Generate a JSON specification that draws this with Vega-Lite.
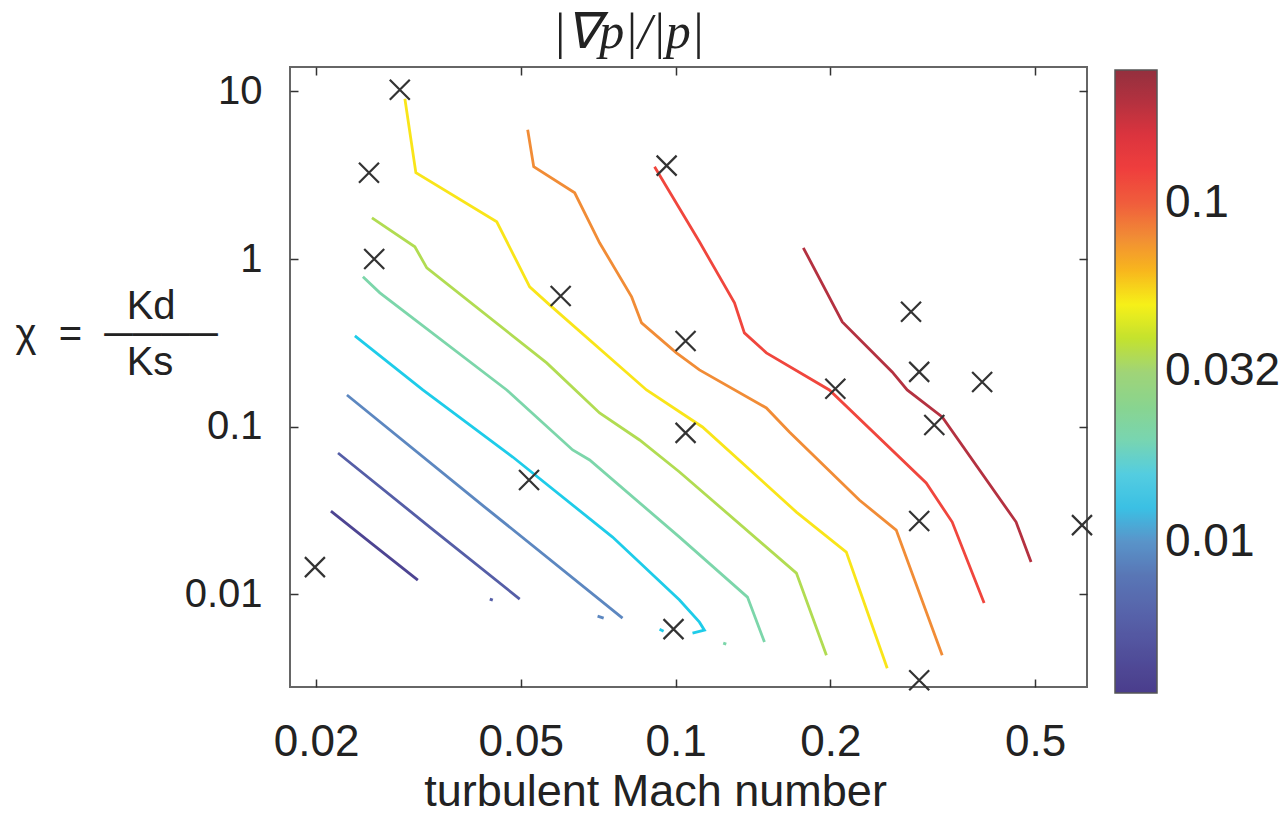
{
  "$schema": "https://vega.github.io/schema/vega-lite/v6.json",
  "width": 797,
  "height": 620,
  "autosize": "none",
  "padding": {"left": 290, "top": 67, "right": 201, "bottom": 128},
  "background": "white",
  "config": {
    "font": "Liberation Sans",
    "view": {"stroke": "#666", "strokeWidth": 2},
    "axis": {
      "domain": false, "grid": false, "ticks": true, "tickColor": "#333", "tickWidth": 1.5,
      "tickSize": 8, "offset": -8, "labelFont": "Liberation Sans", "labelColor": "#222",
      "titleColor": "#222", "titleFont": "Liberation Sans", "titleFontWeight": "normal"
    }
  },
  "title": {
    "text": "|∇p|/|p|", "font": "Liberation Serif", "fontSize": 50, "fontStyle": "italic",
    "fontWeight": "normal", "color": "#222", "anchor": "middle", "dx": -60, "dy": 52, "offset": 20, "baseline": "alphabetic"
  },
  "datasets": {
    "contours": [
      {"c": "1", "lg": -2.40, "i": 1, "x": 0.02138, "y": 0.03131},
      {"c": "1", "lg": -2.40, "i": 2, "x": 0.02603, "y": 0.01935},
      {"c": "1", "lg": -2.40, "i": 3, "x": 0.03155, "y": 0.01212},
      {"c": "2", "lg": -2.25, "i": 1, "x": 0.02207, "y": 0.06956},
      {"c": "2", "lg": -2.25, "i": 2, "x": 0.03328, "y": 0.02513},
      {"c": "2", "lg": -2.25, "i": 3, "x": 0.04978, "y": 0.00934},
      {"c": "2b", "lg": -2.25, "i": 1, "x": 0.04354, "y": 0.00934},
      {"c": "2b", "lg": -2.25, "i": 2, "x": 0.04413, "y": 0.00921},
      {"c": "3", "lg": -2.03, "i": 1, "x": 0.02297, "y": 0.1544},
      {"c": "3", "lg": -2.03, "i": 2, "x": 0.04257, "y": 0.03309},
      {"c": "3", "lg": -2.03, "i": 3, "x": 0.07888, "y": 0.00719},
      {"c": "3b", "lg": -2.03, "i": 1, "x": 0.07054, "y": 0.00739},
      {"c": "3b", "lg": -2.03, "i": 2, "x": 0.07249, "y": 0.00719},
      {"c": "4", "lg": -1.848, "i": 1, "x": 0.02380, "y": 0.3477},
      {"c": "4", "lg": -1.848, "i": 2, "x": 0.03226, "y": 0.1654},
      {"c": "4", "lg": -1.848, "i": 3, "x": 0.04825, "y": 0.06582},
      {"c": "4", "lg": -1.848, "i": 4, "x": 0.07543, "y": 0.02190},
      {"c": "4", "lg": -1.848, "i": 5, "x": 0.1018, "y": 0.00921},
      {"c": "4", "lg": -1.848, "i": 6, "x": 0.1113, "y": 0.00680},
      {"c": "4", "lg": -1.848, "i": 7, "x": 0.1138, "y": 0.00609},
      {"c": "4", "lg": -1.848, "i": 8, "x": 0.1079, "y": 0.00585},
      {"c": "4b", "lg": -1.848, "i": 1, "x": 0.0931, "y": 0.00617},
      {"c": "4b", "lg": -1.848, "i": 2, "x": 0.0948, "y": 0.00601},
      {"c": "5", "lg": -1.68, "i": 1, "x": 0.02467, "y": 0.7828},
      {"c": "5", "lg": -1.68, "i": 2, "x": 0.02662, "y": 0.6283},
      {"c": "5", "lg": -1.68, "i": 3, "x": 0.04697, "y": 0.1654},
      {"c": "5", "lg": -1.68, "i": 4, "x": 0.0631, "y": 0.07249},
      {"c": "5", "lg": -1.68, "i": 5, "x": 0.06808, "y": 0.06316},
      {"c": "5", "lg": -1.68, "i": 6, "x": 0.1018, "y": 0.0219},
      {"c": "5", "lg": -1.68, "i": 7, "x": 0.1380, "y": 0.00960},
      {"c": "5", "lg": -1.68, "i": 8, "x": 0.1489, "y": 0.00517},
      {"c": "5b", "lg": -1.68, "i": 1, "x": 0.1238, "y": 0.0051},
      {"c": "5b", "lg": -1.68, "i": 2, "x": 0.1255, "y": 0.00503},
      {"c": "6", "lg": -1.44, "i": 1, "x": 0.02569, "y": 1.762},
      {"c": "6", "lg": -1.44, "i": 2, "x": 0.03113, "y": 1.183},
      {"c": "6", "lg": -1.44, "i": 3, "x": 0.03284, "y": 0.886},
      {"c": "6", "lg": -1.44, "i": 4, "x": 0.05617, "y": 0.2398},
      {"c": "6", "lg": -1.44, "i": 5, "x": 0.07118, "y": 0.1206},
      {"c": "6", "lg": -1.44, "i": 6, "x": 0.08514, "y": 0.08318},
      {"c": "6", "lg": -1.44, "i": 7, "x": 0.1018, "y": 0.05356},
      {"c": "6", "lg": -1.44, "i": 8, "x": 0.1718, "y": 0.01335},
      {"c": "6", "lg": -1.44, "i": 9, "x": 0.1965, "y": 0.00432},
      {"c": "7", "lg": -1.27, "i": 1, "x": 0.02977, "y": 9.057},
      {"c": "7", "lg": -1.27, "i": 2, "x": 0.03127, "y": 3.273},
      {"c": "7", "lg": -1.27, "i": 3, "x": 0.04492, "y": 1.668},
      {"c": "7", "lg": -1.27, "i": 4, "x": 0.05205, "y": 0.6822},
      {"c": "7", "lg": -1.27, "i": 5, "x": 0.05691, "y": 0.5326},
      {"c": "7", "lg": -1.27, "i": 6, "x": 0.08783, "y": 0.1654},
      {"c": "7", "lg": -1.27, "i": 7, "x": 0.1128, "y": 0.09945},
      {"c": "7", "lg": -1.27, "i": 8, "x": 0.1718, "y": 0.03088},
      {"c": "7", "lg": -1.27, "i": 9, "x": 0.2148, "y": 0.01782},
      {"c": "7", "lg": -1.27, "i": 10, "x": 0.2580, "y": 0.003613},
      {"c": "8", "lg": -1.10, "i": 1, "x": 0.05159, "y": 5.913},
      {"c": "8", "lg": -1.10, "i": 2, "x": 0.05300, "y": 3.554},
      {"c": "8", "lg": -1.10, "i": 3, "x": 0.06367, "y": 2.486},
      {"c": "8", "lg": -1.10, "i": 4, "x": 0.07118, "y": 1.250},
      {"c": "8", "lg": -1.10, "i": 5, "x": 0.08216, "y": 0.5944},
      {"c": "8", "lg": -1.10, "i": 6, "x": 0.08590, "y": 0.4158},
      {"c": "8", "lg": -1.10, "i": 7, "x": 0.1004, "y": 0.2753},
      {"c": "8", "lg": -1.10, "i": 8, "x": 0.1113, "y": 0.2178},
      {"c": "8", "lg": -1.10, "i": 9, "x": 0.1502, "y": 0.1292},
      {"c": "8", "lg": -1.10, "i": 10, "x": 0.1665, "y": 0.09284},
      {"c": "8", "lg": -1.10, "i": 11, "x": 0.2277, "y": 0.03643},
      {"c": "8", "lg": -1.10, "i": 12, "x": 0.2686, "y": 0.02412},
      {"c": "8", "lg": -1.10, "i": 13, "x": 0.3300, "y": 0.00432},
      {"c": "9", "lg": -0.93, "i": 1, "x": 0.09104, "y": 3.554},
      {"c": "9", "lg": -0.93, "i": 2, "x": 0.1113, "y": 1.267},
      {"c": "9", "lg": -0.93, "i": 3, "x": 0.1302, "y": 0.5475},
      {"c": "9", "lg": -0.93, "i": 4, "x": 0.1361, "y": 0.3623},
      {"c": "9", "lg": -0.93, "i": 5, "x": 0.1502, "y": 0.2753},
      {"c": "9", "lg": -0.93, "i": 6, "x": 0.1991, "y": 0.1654},
      {"c": "9", "lg": -0.93, "i": 7, "x": 0.3072, "y": 0.04603},
      {"c": "9", "lg": -0.93, "i": 8, "x": 0.3451, "y": 0.02692},
      {"c": "9", "lg": -0.93, "i": 9, "x": 0.3981, "y": 0.00884},
      {"c": "10", "lg": -0.70, "i": 1, "x": 0.1772, "y": 1.167},
      {"c": "10", "lg": -0.70, "i": 2, "x": 0.2110, "y": 0.4216},
      {"c": "10", "lg": -0.70, "i": 3, "x": 0.2638, "y": 0.2120},
      {"c": "10", "lg": -0.70, "i": 4, "x": 0.2821, "y": 0.1654},
      {"c": "10", "lg": -0.70, "i": 5, "x": 0.3300, "y": 0.1141},
      {"c": "10", "lg": -0.70, "i": 6, "x": 0.4594, "y": 0.02692},
      {"c": "10", "lg": -0.70, "i": 7, "x": 0.4912, "y": 0.01553}
    ],
    "marks": [
      {"x": 0.0291, "y": 10.25},
      {"x": 0.02535, "y": 3.27},
      {"x": 0.02595, "y": 1.0},
      {"x": 0.0598, "y": 0.602},
      {"x": 0.0961, "y": 3.61},
      {"x": 0.1046, "y": 0.324},
      {"x": 0.1046, "y": 0.0917},
      {"x": 0.0519, "y": 0.048},
      {"x": 0.0991, "y": 0.00618},
      {"x": 0.0199, "y": 0.01449},
      {"x": 0.2045, "y": 0.168},
      {"x": 0.287, "y": 0.484},
      {"x": 0.2977, "y": 0.212},
      {"x": 0.3946, "y": 0.1845},
      {"x": 0.3185, "y": 0.1022},
      {"x": 0.2977, "y": 0.0273},
      {"x": 0.617, "y": 0.0258},
      {"x": 0.2977, "y": 0.00306}
    ]
  },
  "layer": [
    {
      "data": {"name": "contours"},
      "mark": {"type": "line", "strokeWidth": 2.8, "opacity": 0.9, "clip": true},
      "encoding": {
        "x": {
          "field": "x", "type": "quantitative",
          "scale": {"type": "log", "domain": [0.0178, 0.631], "nice": false},
          "axis": {
            "orient": "bottom", "values": [0.02, 0.05, 0.1, 0.2, 0.5], "format": "~g",
            "labelPadding": 33, "labelFontSize": 44,
            "title": "turbulent Mach number", "titleFontSize": 45,
            "titleX": 365, "titleY": 126, "titleBaseline": "alphabetic", "titleAlign": "center"
          }
        },
        "y": {
          "field": "y", "type": "quantitative",
          "scale": {"type": "log", "domain": [0.00279, 14.0], "nice": false},
          "axis": {
            "orient": "left", "values": [0.01, 0.1, 1, 10], "format": "~g",
            "labelPadding": 28, "labelFontSize": 40,
            "title": ["\u200b\u00a0\u00a0\u00a0\u00a0\u00a0\u00a0\u00a0\u00a0\u00a0\u00a0Kd", "χ\u00a0\u00a0=\u00a0\u00a0────", "\u200b\u00a0\u00a0\u00a0\u00a0\u00a0\u00a0\u00a0\u00a0\u00a0\u00a0Ks"],
            "titleAngle": 0, "titleAlign": "left", "titleBaseline": "middle",
            "titleX": -283, "titleY": 239, "titleFontSize": 40, "titleLineHeight": 28
          }
        },
        "color": {
          "field": "lg", "type": "quantitative",
          "scale": {
            "type": "linear",
            "domain": [-2.447, -2.329, -2.232, -2.134, -2.033, -1.987, -1.926, -1.886, -1.827, -1.788, -1.739, -1.641, -1.544, -1.494, -1.442, -1.396, -1.345, -1.295, -1.266, -1.218, -1.168, -1.100, -1.041, -0.969, -0.872, -0.774, -0.675, -0.607],
            "range": ["#372880", "#403c90", "#4450a0", "#4860a8", "#4a78b8", "#4890c8", "#40a8d8", "#10c4e6", "#00c8e8", "#50c8d8", "#68d0b8", "#78d090", "#88d070", "#98d068", "#a8d840", "#c0e010", "#e0e800", "#f8f000", "#f8e000", "#f8b800", "#f8a010", "#f08020", "#f06028", "#ee3a28", "#ee2229", "#d01e2a", "#a01a2a", "#881a2a"]
          },
          "legend": {
            "orient": "none", "legendX": 825, "legendY": 3, "direction": "vertical", "title": null,
            "padding": 0, "gradientLength": 623, "gradientThickness": 42,
            "gradientStrokeColor": "#444", "gradientStrokeWidth": 1.5,
            "values": [-2, -1.49485, -1],
            "labelExpr": "datum.value < -1.9 ? '0.01' : (datum.value < -1.2 ? '0.032' : '0.1')",
            "labelFontSize": 46, "labelOffset": 8, "labelColor": "#222", "labelOverlap": false
          }
        },
        "detail": {"field": "c", "type": "nominal"},
        "order": {"field": "i", "type": "quantitative"}
      }
    },
    {
      "data": {"name": "marks"},
      "mark": {"type": "point", "shape": "M-1,-1L1,1M-1,1L1,-1", "filled": false, "stroke": "#333", "strokeWidth": 2.2, "size": 400, "opacity": 1, "clip": false},
      "encoding": {
        "x": {
          "field": "x", "type": "quantitative",
          "scale": {"type": "log", "domain": [0.0178, 0.631], "nice": false},
          "axis": {"orient": "top", "labels": false, "title": null, "values": [0.02, 0.05, 0.1, 0.2, 0.5]}
        },
        "y": {
          "field": "y", "type": "quantitative",
          "scale": {"type": "log", "domain": [0.00279, 14.0], "nice": false},
          "axis": {"orient": "right", "labels": false, "title": null, "values": [0.01, 0.1, 1, 10]}
        }
      }
    }
  ],
  "resolve": {"axis": {"x": "independent", "y": "independent"}}
}
